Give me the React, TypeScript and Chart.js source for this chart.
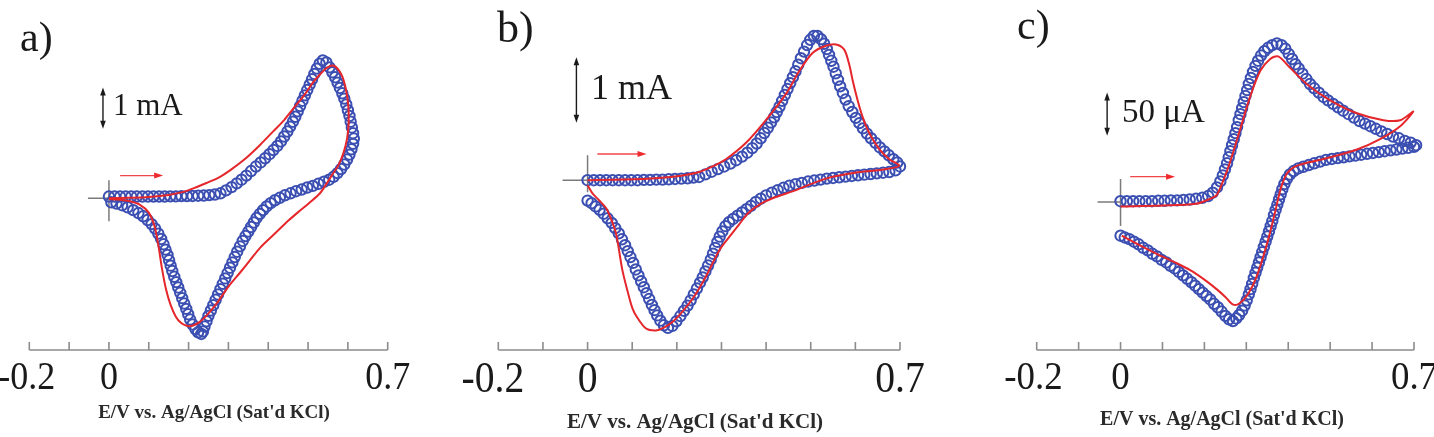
import React, { useEffect, useRef } from "react";
import { Chart, registerables } from "chart.js";

Chart.register(...registerables);

// ---------- shared axis ----------
const TICK_VALUES = [-0.2, -0.1, 0, 0.1, 0.2, 0.3, 0.4, 0.5, 0.6, 0.7];
const LABELLED_TICKS = [-0.2, 0, 0.7];
const TICK_TEXT = ["-0.2", "0", "0.7"];
const AXIS_TITLE = "E/V vs. Ag/AgCl (Sat'd KCl)";

// ---------- panel a (current in mA) ----------
const A_EXP_E = [
  0, 0.014, 0.028, 0.042, 0.056, 0.07, 0.084, 0.098, 0.112, 0.126, 0.14, 0.154, 0.168, 0.182, 0.196, 0.21, 0.224, 0.238, 0.252, 0.266,
  0.28, 0.294, 0.308, 0.321, 0.333, 0.345, 0.357, 0.369, 0.381, 0.392, 0.403, 0.413, 0.423, 0.432, 0.44, 0.448, 0.455, 0.462, 0.468, 0.474,
  0.48, 0.486, 0.492, 0.498, 0.504, 0.51, 0.516, 0.522, 0.529, 0.537,
  0.546, 0.554, 0.561, 0.568, 0.574, 0.58, 0.586, 0.591, 0.596, 0.6, 0.604, 0.607, 0.61, 0.613, 0.615,
  0.613, 0.609, 0.604, 0.598, 0.591, 0.583, 0.574, 0.564, 0.553, 0.54, 0.526, 0.512, 0.498, 0.484, 0.47, 0.456, 0.442, 0.429, 0.417, 0.406,
  0.396, 0.387, 0.379, 0.371, 0.364, 0.357, 0.35, 0.343, 0.336, 0.329, 0.322, 0.316, 0.31, 0.304, 0.298, 0.292, 0.286, 0.28, 0.274, 0.268,
  0.262, 0.256, 0.25, 0.245, 0.24, 0.236, 0.232,
  0.224, 0.217, 0.21, 0.204, 0.199, 0.194, 0.189, 0.184, 0.179, 0.174, 0.169, 0.164, 0.159, 0.155, 0.151, 0.147, 0.142, 0.137, 0.131, 0.124,
  0.116, 0.107, 0.097, 0.086, 0.074, 0.061, 0.047, 0.033, 0.019, 0.006,
];
const A_EXP_I = [
  0.04, 0.04, 0.04, 0.04, 0.04, 0.04, 0.04, 0.04, 0.04, 0.04, 0.04, 0.045, 0.045, 0.05, 0.05, 0.055, 0.06, 0.065, 0.075, 0.09,
  0.12, 0.19, 0.27, 0.36, 0.45, 0.55, 0.66, 0.77, 0.87, 0.97, 1.07, 1.17, 1.27, 1.38, 1.5, 1.62, 1.74, 1.86, 1.98, 2.11,
  2.24, 2.37, 2.5, 2.63, 2.76, 2.89, 3.02, 3.15, 3.27, 3.35,
  3.3, 3.18, 3.06, 2.94, 2.81, 2.68, 2.55, 2.42, 2.28, 2.14, 2.0, 1.86, 1.72, 1.58, 1.45,
  1.32, 1.19, 1.06, 0.94, 0.82, 0.71, 0.61, 0.52, 0.45, 0.4, 0.35, 0.3, 0.26, 0.21, 0.17, 0.12, 0.07, 0.01, -0.05, -0.12,
  -0.2, -0.29, -0.38, -0.48, -0.59, -0.7, -0.81, -0.92, -1.04, -1.17, -1.3, -1.43, -1.56, -1.69, -1.82, -1.95, -2.08, -2.21, -2.34, -2.47,
  -2.6, -2.73, -2.86, -2.99, -3.12, -3.24, -3.3,
  -3.26, -3.18, -3.07, -2.95, -2.82, -2.69, -2.56, -2.43, -2.3, -2.17, -2.04, -1.91, -1.77, -1.64, -1.51, -1.38, -1.25, -1.12, -0.99, -0.86,
  -0.74, -0.63, -0.53, -0.44, -0.36, -0.29, -0.22, -0.17, -0.13, -0.1,
];
const A_SIM_E = [
  0, 0.05, 0.1, 0.15, 0.19, 0.212, 0.245, 0.279, 0.31, 0.346, 0.38, 0.413, 0.44, 0.463, 0.49, 0.513, 0.532, 0.547, 0.565, 0.584,
  0.595, 0.601, 0.602, 0.598, 0.588, 0.575, 0.56, 0.547, 0.53, 0.505, 0.48, 0.45, 0.42, 0.38, 0.355, 0.33, 0.3, 0.275, 0.25, 0.229,
  0.21, 0.195, 0.18, 0.168, 0.155, 0.143, 0.133, 0.125, 0.115, 0.1, 0.078, 0.05, 0.02, 0,
];
const A_SIM_I = [
  0, 0.01, 0.03, 0.08, 0.16, 0.24, 0.37, 0.52, 0.72, 0.99, 1.3, 1.63, 1.9, 2.18, 2.5, 2.82, 3.03, 3.17, 3.22, 3.0,
  2.65, 2.25, 1.85, 1.45, 1.07, 0.78, 0.56, 0.36, 0.12, -0.1, -0.3, -0.55, -0.83, -1.2, -1.5, -1.8, -2.15, -2.5, -2.8, -3.0,
  -3.1, -3.1, -3.02, -2.88, -2.6, -2.2, -1.7, -1.2, -0.7, -0.35, -0.16, -0.07, -0.03, -0.02,
];

// ---------- panel b (current in mA) ----------
const B_EXP_E = [
  0, 0.014, 0.028, 0.042, 0.056, 0.07, 0.084, 0.098, 0.112, 0.126, 0.14, 0.154, 0.168, 0.182, 0.196, 0.21, 0.224, 0.237, 0.25,
  0.264, 0.278, 0.292, 0.306, 0.32, 0.333, 0.346, 0.358, 0.369, 0.379, 0.388, 0.396, 0.404, 0.411, 0.418, 0.424, 0.43, 0.436, 0.442, 0.448,
  0.454, 0.46, 0.466, 0.472, 0.478, 0.485, 0.492, 0.499, 0.507,
  0.515, 0.523, 0.53, 0.536, 0.541, 0.546, 0.551, 0.556, 0.561, 0.566, 0.572, 0.578, 0.585, 0.593, 0.601, 0.609, 0.617, 0.626, 0.635, 0.645,
  0.655, 0.665, 0.675, 0.685, 0.694, 0.7,
  0.69, 0.676, 0.662, 0.648, 0.634, 0.62, 0.606, 0.592, 0.578, 0.564, 0.55, 0.536, 0.522, 0.508, 0.494, 0.48, 0.466, 0.452, 0.439, 0.426,
  0.413, 0.4, 0.388, 0.377, 0.366, 0.356, 0.346, 0.336, 0.326, 0.317, 0.309, 0.302, 0.296, 0.291, 0.286, 0.281, 0.276, 0.27, 0.264, 0.258,
  0.252, 0.245, 0.238, 0.231, 0.224, 0.216, 0.208, 0.199, 0.19,
  0.18, 0.171, 0.163, 0.156, 0.15, 0.144, 0.138, 0.132, 0.126, 0.12, 0.114, 0.108, 0.102, 0.096, 0.09, 0.084, 0.077, 0.07, 0.062, 0.054,
  0.045, 0.036, 0.027, 0.018, 0.009, 0,
];
const B_EXP_I = [
  0, 0, 0, 0, 0, 0, 0, 0, 0, 0.005, 0.005, 0.01, 0.01, 0.015, 0.02, 0.025, 0.03, 0.04, 0.05,
  0.09, 0.13, 0.17, 0.21, 0.255, 0.305, 0.36, 0.42, 0.49, 0.56, 0.64, 0.72, 0.8, 0.88, 0.96, 1.04, 1.12, 1.21, 1.3, 1.39,
  1.48, 1.57, 1.66, 1.76, 1.86, 1.96, 2.06, 2.14, 2.2,
  2.2, 2.15, 2.08, 2.0, 1.91, 1.82, 1.73, 1.63, 1.53, 1.43, 1.33, 1.23, 1.13, 1.04, 0.95, 0.87, 0.79, 0.71, 0.64, 0.57,
  0.5, 0.44, 0.38, 0.32, 0.27, 0.21,
  0.15, 0.125, 0.115, 0.105, 0.095, 0.085, 0.075, 0.065, 0.055, 0.045, 0.035, 0.025, 0.01, -0.005, -0.02, -0.04, -0.06, -0.085, -0.115, -0.15,
  -0.19, -0.23, -0.28, -0.33, -0.39, -0.44, -0.49, -0.54, -0.59, -0.64, -0.7, -0.78, -0.86, -0.94, -1.03, -1.12, -1.21, -1.3, -1.39, -1.48,
  -1.56, -1.65, -1.74, -1.83, -1.91, -1.99, -2.07, -2.15, -2.22,
  -2.25, -2.21, -2.14, -2.06, -1.98, -1.9, -1.81, -1.72, -1.63, -1.54, -1.45, -1.36, -1.26, -1.17, -1.08, -0.99, -0.9, -0.81, -0.73, -0.65,
  -0.58, -0.51, -0.45, -0.4, -0.35, -0.31,
];
const B_SIM_E = [
  0, 0.08, 0.16, 0.21, 0.25, 0.28, 0.31, 0.355, 0.4, 0.445, 0.474, 0.504, 0.534, 0.557, 0.575, 0.586, 0.594, 0.605, 0.616, 0.631,
  0.654, 0.676, 0.698, 0.66, 0.609, 0.534, 0.459, 0.42, 0.385, 0.36, 0.34, 0.318, 0.295, 0.265, 0.235, 0.21, 0.19, 0.17, 0.153, 0.131,
  0.112, 0.101, 0.09, 0.078, 0.064, 0.052, 0.041, 0.025, 0.011, 0,
];
const B_SIM_I = [
  0, 0.01, 0.035, 0.07, 0.125, 0.21, 0.32, 0.57, 0.92, 1.32, 1.66, 1.94, 2.05, 2.07, 1.99, 1.77, 1.52, 1.22, 0.97, 0.72,
  0.47, 0.32, 0.22, 0.16, 0.125, 0.025, -0.17, -0.26, -0.37, -0.5, -0.67, -0.86, -1.07, -1.47, -1.81, -2.02, -2.16, -2.25, -2.29, -2.26,
  -2.1, -1.96, -1.7, -1.37, -0.82, -0.58, -0.42, -0.3, -0.2, -0.075,
];

// ---------- panel c (current in µA) ----------
const C_EXP_E = [
  0, 0.015, 0.03, 0.045, 0.06, 0.075, 0.09, 0.105, 0.12, 0.135, 0.15, 0.165, 0.18, 0.195, 0.209,
  0.22, 0.23, 0.238, 0.244, 0.249, 0.254, 0.258, 0.262, 0.266, 0.27, 0.274, 0.278, 0.282, 0.286, 0.29, 0.294, 0.298, 0.302, 0.306, 0.311,
  0.316, 0.322, 0.328, 0.335, 0.343, 0.352, 0.362, 0.373,
  0.384, 0.393, 0.401, 0.409, 0.417, 0.425, 0.434, 0.443, 0.452, 0.462, 0.473, 0.484, 0.495, 0.507, 0.519, 0.531, 0.544, 0.557, 0.57, 0.583,
  0.596, 0.609, 0.622, 0.636, 0.65, 0.664, 0.678, 0.692, 0.705,
  0.7, 0.686, 0.672, 0.658, 0.644, 0.63, 0.616, 0.602, 0.588, 0.574, 0.56, 0.546, 0.532, 0.518, 0.504, 0.49, 0.476, 0.462, 0.449, 0.436,
  0.424, 0.413, 0.404, 0.397, 0.391, 0.386, 0.382, 0.378, 0.374, 0.37, 0.366, 0.362, 0.358, 0.354, 0.35, 0.346, 0.342, 0.338, 0.334, 0.33,
  0.326, 0.322, 0.318, 0.314, 0.31, 0.306, 0.301, 0.296, 0.29, 0.283, 0.276, 0.268,
  0.259, 0.25, 0.241, 0.232, 0.223, 0.214, 0.205, 0.196, 0.187, 0.178, 0.169, 0.159, 0.149, 0.139, 0.129, 0.119, 0.109, 0.098, 0.087, 0.076,
  0.065, 0.054, 0.043, 0.032, 0.021, 0.01, 0,
];
const C_EXP_I = [
  1, 1, 1, 1, 1, 1, 1.5, 1.5, 2, 2, 2.5, 3, 4, 5, 7,
  11, 17, 24, 31, 38, 45, 52, 59, 66, 73, 80, 87, 95, 102, 109, 116, 123, 130, 137, 144,
  151, 158, 164, 170, 175, 179, 182, 184,
  182, 178, 172, 166, 160, 155, 149, 143, 137, 132, 127, 122, 118, 114, 110, 106, 102, 98, 94, 91,
  88, 85, 82, 79, 76, 74, 71, 69, 66,
  64, 63, 62, 61, 60, 59, 58, 57, 56, 55, 54, 53, 52, 51, 50, 49, 47, 45, 43, 41,
  39, 36, 32, 27, 21, 15, 9, 3, -3, -9, -15, -22, -28, -34, -40, -46, -52, -58, -64, -70,
  -76, -82, -88, -95, -101, -107, -114, -120, -126, -131, -135, -138,
  -136, -132, -127, -122, -118, -113, -109, -105, -101, -97, -93, -89, -85, -81, -77, -74, -70, -67, -63, -60,
  -56, -53, -49, -46, -43, -41, -39,
];
const C_SIM_E = [
  0, 0.1, 0.18, 0.21, 0.229, 0.245, 0.261, 0.285, 0.309, 0.333, 0.357, 0.376, 0.404, 0.444, 0.5, 0.564, 0.627, 0.667, 0.698, 0.667,
  0.619, 0.564, 0.484, 0.42, 0.398, 0.385, 0.375, 0.369, 0.349, 0.325, 0.305, 0.285, 0.269, 0.25, 0.229, 0.2, 0.166, 0.13, 0.086, 0.045,
  0.003,
];
const C_SIM_I = [
  -5, -4, -2, 3, 8, 25, 46, 84, 122, 152, 166, 169, 156, 137, 118, 103, 95, 95, 105, 88,
  73, 61, 50, 42, 34, 20, 2, -11, -49, -86, -106, -117, -119, -110, -101, -90, -79, -70, -60, -50,
  -39,
];

const SERIF = "'Liberation Serif', 'Times New Roman', 'DejaVu Serif', serif";
const BLUE = "#3b4fb2";
const RED = "#e5262b";
const INK = "#1a1a1a";

type Panel = {
  tag: string;
  left: number;
  width: number;
  padLeft: number;
  padRight: number;
  padBottom: number;
  yMin: number;
  yMax: number;
  expE: number[];
  expI: number[];
  simE: number[];
  simI: number[];
  tagX: number;
  tagBaseline: number;
  tagFont: number;
  tickFont: number;
  tickBaseline: number;
  titleFont: number;
  titleX: number;
  titleBaseline: number;
  barE: number;
  barFrom: number;
  barTo: number;
  barText: string;
  barTextX: number;
  barBaseline: number;
  barFont: number;
  arrowFrom: number;
  arrowTo: number;
  arrowI: number;
  crossLeft: number;
  crossUp: number;
  crossDown: number;
};

const PANELS: Panel[] = [
  {
    tag: "a)", left: 0, width: 478, padLeft: 29.3, padRight: 90.3, padBottom: 87,
    yMin: -3.69, yMax: 4.643,
    expE: A_EXP_E, expI: A_EXP_I, simE: A_SIM_E, simI: A_SIM_I,
    tagX: 20, tagBaseline: 51, tagFont: 42,
    tickFont: 40, tickBaseline: 389,
    titleFont: 19, titleX: 214, titleBaseline: 418,
    barE: -0.015, barFrom: 1.69, barTo: 2.69, barText: "1 mA", barTextX: 113, barBaseline: 115, barFont: 31,
    arrowFrom: 0.028, arrowTo: 0.136, arrowI: 0.55,
    crossLeft: 21, crossUp: 18, crossDown: 23,
  },
  {
    tag: "b)", left: 430, width: 526, padLeft: 68.3, padRight: 56, padBottom: 87,
    yMin: -2.587, yMax: 2.637,
    expE: B_EXP_E, expI: B_EXP_I, simE: B_SIM_E, simI: B_SIM_I,
    tagX: 67, tagBaseline: 42, tagFont: 44,
    tickFont: 44, tickBaseline: 392,
    titleFont: 21, titleX: 265, titleBaseline: 428,
    barE: -0.025, barFrom: 0.876, barTo: 1.876, barText: "1 mA", barTextX: 161, barBaseline: 99, barFont: 36,
    arrowFrom: 0.022, arrowTo: 0.132, arrowI: 0.4,
    crossLeft: 25, crossUp: 25, crossDown: 12,
  },
  {
    tag: "c)", left: 956, width: 478, padLeft: 80.7, padRight: 20, padBottom: 87,
    yMin: -171.6, yMax: 226.1,
    expE: C_EXP_E, expI: C_EXP_I, simE: C_SIM_E, simI: C_SIM_I,
    tagX: 61, tagBaseline: 39, tagFont: 42,
    tickFont: 41, tickBaseline: 389,
    titleFont: 20, titleX: 266, titleBaseline: 425,
    barE: -0.032, barFrom: 77, barTo: 127, barText: "50 μA", barTextX: 166, barBaseline: 122, barFont: 33,
    arrowFrom: 0.023, arrowTo: 0.13, arrowI: 29.5,
    crossLeft: 23, crossUp: 23, crossDown: 24,
  },
];

// tick numerals are set slightly condensed
const TICK_SQUEEZE = 0.9;

function arrowHead(ctx: CanvasRenderingContext2D, x: number, y: number, dx: number, dy: number, len: number, half: number) {
  // filled triangle whose tip is at (x, y), pointing along (dx, dy)
  const px = -dy;
  const py = dx;
  ctx.beginPath();
  ctx.moveTo(x, y);
  ctx.lineTo(x - dx * len + px * half, y - dy * len + py * half);
  ctx.lineTo(x - dx * len - px * half, y - dy * len - py * half);
  ctx.closePath();
  ctx.fill();
}

function decorations(p: Panel) {
  return {
    id: "cvDecorations",
    beforeDatasetsDraw(chart: any) {
      const { ctx, scales } = chart;
      const ox = scales.x.getPixelForValue(0);
      const oy = scales.y.getPixelForValue(0);
      ctx.save();
      ctx.strokeStyle = "#7b7b7b";
      ctx.lineWidth = 1.5;
      ctx.beginPath();
      ctx.moveTo(ox - p.crossLeft, oy);
      ctx.lineTo(ox, oy);
      ctx.moveTo(ox, oy - p.crossUp);
      ctx.lineTo(ox, oy + p.crossDown);
      ctx.stroke();
      ctx.restore();
    },
    afterDraw(chart: any) {
      const { ctx, scales, chartArea } = chart;
      const x = scales.x;
      const y = scales.y;
      const axisY = chartArea.bottom;
      ctx.save();

      // potential axis with inward ticks
      ctx.strokeStyle = "#8c8c8c";
      ctx.lineWidth = 1.6;
      ctx.beginPath();
      ctx.moveTo(x.getPixelForValue(TICK_VALUES[0]), axisY);
      ctx.lineTo(x.getPixelForValue(TICK_VALUES[TICK_VALUES.length - 1]), axisY);
      for (const v of TICK_VALUES) {
        const px = x.getPixelForValue(v);
        ctx.moveTo(px, axisY);
        ctx.lineTo(px, axisY - 8);
      }
      ctx.stroke();

      ctx.fillStyle = INK;
      ctx.textBaseline = "alphabetic";
      ctx.font = `${p.tickFont}px ${SERIF}`;
      LABELLED_TICKS.forEach((v, i) => {
        const px = x.getPixelForValue(v);
        ctx.save();
        ctx.translate(px, p.tickBaseline);
        ctx.scale(TICK_SQUEEZE, 1);
        if (v < 0) {
          // negative end label sits mostly left of its tick
          ctx.textAlign = "right";
          ctx.fillText(TICK_TEXT[i], 26 / TICK_SQUEEZE, 0);
        } else {
          ctx.textAlign = "center";
          ctx.fillText(TICK_TEXT[i], 0, 0);
        }
        ctx.restore();
      });

      ctx.textAlign = "center";
      ctx.font = `bold ${p.titleFont}px ${SERIF}`;
      ctx.fillStyle = "#2a2a2a";
      ctx.fillText(AXIS_TITLE, p.titleX, p.titleBaseline);

      // panel tag
      ctx.textAlign = "left";
      ctx.fillStyle = INK;
      ctx.font = `${p.tagFont}px ${SERIF}`;
      ctx.fillText(p.tag, p.tagX, p.tagBaseline);

      // current scale bar
      const bx = x.getPixelForValue(p.barE);
      const bTop = y.getPixelForValue(p.barTo);
      const bBot = y.getPixelForValue(p.barFrom);
      ctx.strokeStyle = INK;
      ctx.fillStyle = INK;
      ctx.lineWidth = 1.4;
      ctx.beginPath();
      ctx.moveTo(bx, bTop + 4);
      ctx.lineTo(bx, bBot - 4);
      ctx.stroke();
      arrowHead(ctx, bx, bTop, 0, -1, 8, 2.8);
      arrowHead(ctx, bx, bBot, 0, 1, 8, 2.8);
      ctx.font = `${p.barFont}px ${SERIF}`;
      ctx.fillText(p.barText, p.barTextX, p.barBaseline);

      // sweep direction arrow
      const ax0 = x.getPixelForValue(p.arrowFrom);
      const ax1 = x.getPixelForValue(p.arrowTo);
      const ay = y.getPixelForValue(p.arrowI);
      ctx.strokeStyle = "#f0464a";
      ctx.fillStyle = "#ee2c30";
      ctx.lineWidth = 1.3;
      ctx.beginPath();
      ctx.moveTo(ax0, ay);
      ctx.lineTo(ax1 - 6, ay);
      ctx.stroke();
      arrowHead(ctx, ax1, ay, 1, 0, 9, 3);

      ctx.restore();
    },
  };
}

function CvPanel({ p }: { p: Panel }) {
  const ref = useRef<HTMLCanvasElement | null>(null);

  useEffect(() => {
    if (!ref.current) return;
    const chart = new Chart(ref.current, {
      type: "scatter",
      data: {
        datasets: [
          {
            label: "simulated",
            data: p.simE.map((e, i) => ({ x: e, y: p.simI[i] })),
            showLine: true,
            borderColor: RED,
            borderWidth: 2,
            pointRadius: 0,
            tension: 0.3,
            clip: false as any,
            order: 0,
          },
          {
            label: "experimental",
            data: p.expE.map((e, i) => ({ x: e, y: p.expI[i] })),
            showLine: false,
            pointRadius: 5.2,
            pointBorderWidth: 2,
            pointBorderColor: BLUE,
            pointBackgroundColor: "rgba(255,255,255,0)",
            borderColor: BLUE,
            backgroundColor: "rgba(255,255,255,0)",
            clip: false as any,
            order: 1,
          },
        ],
      },
      options: {
        responsive: false,
        animation: false,
        devicePixelRatio: 1,
        events: [],
        layout: { padding: { left: p.padLeft, right: p.padRight, top: 0, bottom: p.padBottom } },
        scales: {
          x: { type: "linear", min: -0.2, max: 0.7, display: false },
          y: { type: "linear", min: p.yMin, max: p.yMax, display: false },
        },
        plugins: { legend: { display: false }, tooltip: { enabled: false } },
      },
      plugins: [decorations(p)],
    });
    return () => chart.destroy();
  }, [p]);

  return (
    <canvas
      ref={ref}
      width={p.width}
      height={437}
      style={{ position: "absolute", left: p.left, top: 0, width: p.width, height: 437, display: "block" }}
    />
  );
}

export default function App() {
  return (
    <div style={{ position: "fixed", left: 0, top: 0, width: 1434, height: 437, background: "#ffffff", overflow: "hidden" }}>
      {PANELS.map((p) => (
        <CvPanel key={p.tag} p={p} />
      ))}
    </div>
  );
}
